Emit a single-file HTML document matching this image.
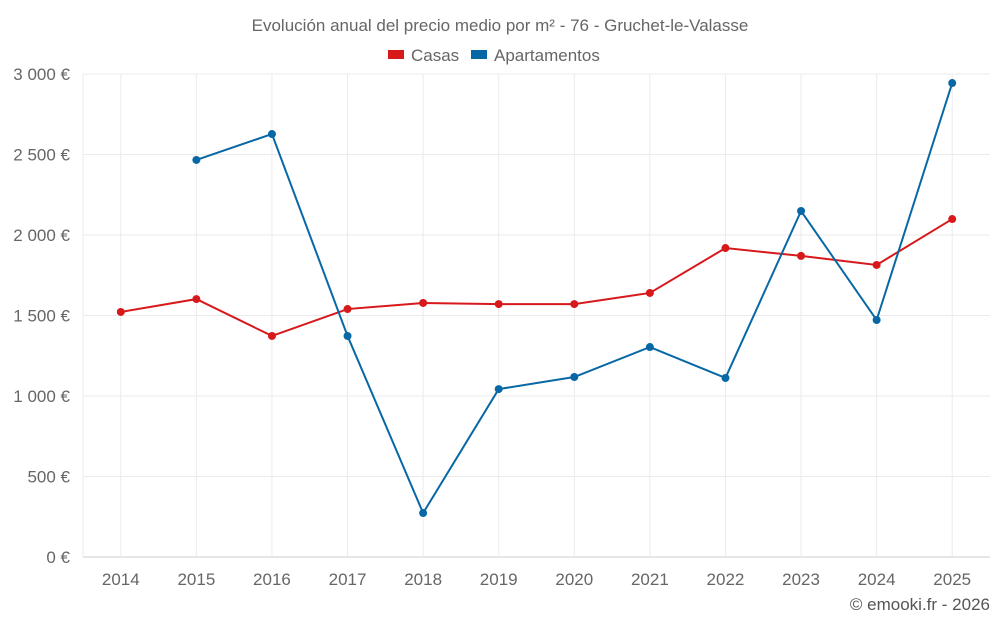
<!DOCTYPE html>
<html><head><meta charset="utf-8"><style>
body{margin:0;background:#fff;font-family:"Liberation Sans",sans-serif;}
</style></head><body>
<svg width="1000" height="625" xmlns="http://www.w3.org/2000/svg" font-family="Liberation Sans, sans-serif">
<text x="500" y="31" text-anchor="middle" font-size="17" fill="#666">Evolución anual del precio medio por m² - 76 - Gruchet-le-Valasse</text>
<g>
<g><rect x="388" y="50" width="16" height="9" fill="#d7191c"/><text x="411" y="61" font-size="17" fill="#666">Casas</text></g>
<g><rect x="471" y="50" width="16" height="9" fill="#0868a6"/><text x="494" y="61" font-size="17" fill="#666">Apartamentos</text></g>
</g>
<g id="grid"></g><g id="axes"></g><g id="series"></g>
<text x="990" y="610" text-anchor="end" font-size="17" fill="#555">© emooki.fr - 2026</text>
</svg>
<script>
const years=[2014,2015,2016,2017,2018,2019,2020,2021,2022,2023,2024,2025];
const casas=[1522,1602,1373,1540,1578,1571,1571,1640,1919,1870,1814,2099];
const apartamentos=[null,2466,2627,1373,273,1043,1118,1304,1112,2149,1472,2944];
const yTicks=[0,500,1000,1500,2000,2500,3000];
const yTickLabels=["0 €","500 €","1 000 €","1 500 €","2 000 €","2 500 €","3 000 €"];
const L=83,R=990,T=74,B=557,ymax=3000;
const bw=(R-L)/years.length;
const x=i=>L+bw*(i+0.5);
const y=v=>B-(v/ymax)*(B-T);
const NS="http://www.w3.org/2000/svg";
function mk(p,tag,a){const e=document.createElementNS(NS,tag);for(const k in a)e.setAttribute(k,a[k]);p.appendChild(e);return e;}
const grid=document.getElementById('grid'),axes=document.getElementById('axes'),ser=document.getElementById('series');
yTicks.forEach((t,i)=>{
 const l=mk(grid,'line',{x1:L,x2:R,y1:y(t),y2:y(t),stroke:i==0?'#ccc':'#ebebeb','stroke-width':1});
 
 
 const tx=mk(axes,'text',{x:L-13,y:y(t)+6,'text-anchor':'end','font-size':17,fill:'#666'});
 tx.textContent=yTickLabels[i];
 
 
});
const l0=mk(grid,'line',{x1:L,x2:L,y1:T,y2:B,stroke:'#ebebeb'});


years.forEach((yr,i)=>{
 const l=mk(grid,'line',{x1:x(i),x2:x(i),y1:T,y2:B,stroke:'#ebebeb'});
 
 
 const tx=mk(axes,'text',{x:x(i),y:585,'text-anchor':'middle','font-size':17,fill:'#666'});
 tx.textContent=yr;
 
 
});
function draw(vals,color,name){
 let d='';vals.forEach((v,i)=>{if(v==null)return;d+=(d?'L':'M')+x(i)+','+y(v);});
 const p=mk(ser,'path',{d:d,fill:'none',stroke:color,'stroke-width':2});
 
 
 vals.forEach((v,i)=>{if(v==null)return;
  const c=mk(ser,'circle',{cx:x(i),cy:y(v),r:4,fill:color});
  
  
 });
}
draw(casas,'#d7191c','casas');
draw(apartamentos,'#0868a6','apartamentos');
</script>
</body></html>
